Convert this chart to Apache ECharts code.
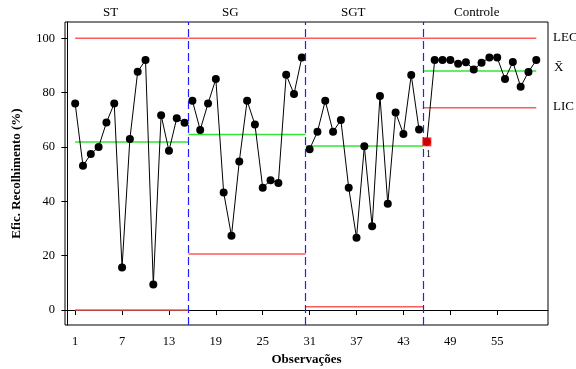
<!DOCTYPE html>
<html>
<head>
<meta charset="utf-8">
<script src="https://cdn.jsdelivr.net/npm/echarts@6/dist/echarts.min.js"></script>
<style>
  html, body { margin: 0; padding: 0; background: #fff; }
  #chart { width: 576px; height: 369px; }
</style>
</head>
<body>
<div id="chart"></div>
<script>
// estágios e limites de cada um
const stageNames = ['ST', 'SG', 'SGT', 'Controle'];
const stageFrom = [1, 15.5, 30.5, 45.5];
const stageTo = [15.5, 30.5, 45.5, 60];
const lecValues = [100, 100, 100, 100];
const meanValues = [61.8, 64.6, 60.4, 88.0];
const licValues = [0, 20.6, 1.2, 74.4];

// eficiência de recolhimento (%) por observação
const stValues = [76.0, 53.1, 57.4, 60.0, 69.0, 76.0, 15.7, 62.9, 87.7, 92.0, 9.4, 71.7, 58.6, 70.6, 68.9];
const sgValues = [77.0, 66.3, 76.0, 85.0, 43.3, 27.3, 54.7, 77.0, 68.3, 45.0, 47.8, 46.8, 86.6, 79.5, 92.9];
const sgtValues = [59.2, 65.6, 77.0, 65.6, 69.9, 45.0, 26.6, 60.3, 30.8, 78.8, 39.1, 72.7, 64.8, 86.5, 66.4];
const controleValues = [61.9, 92.0, 92.0, 92.0, 90.6, 91.2, 88.5, 91.0, 92.9, 92.9, 85.0, 91.3, 82.2, 87.6, 92.0];
const stageValues = [stValues, sgValues, sgtValues, controleValues];

const xTicks = [1, 7, 13, 19, 25, 31, 37, 43, 49, 55];
const yTicks = [0, 20, 40, 60, 80, 100];
const outOfControl = [46]; // ponto marcado pelo teste 1

const FONT = 'Liberation Serif';
const series = [];
const allPoints = [];

// linhas de controle por estágio
function limitLine(vals, color, i) {
  return {
    type: 'line',
    data: [[stageFrom[i], vals[i]], [stageTo[i], vals[i]]],
    symbol: 'none',
    silent: true,
    lineStyle: { color: color, width: 1.5 },
    z: 1
  };
}
for (let i = 0; i < stageNames.length; i++) {
  series.push(limitLine(lecValues, '#ff5a5a', i));
  series.push(limitLine(licValues, '#ff5a5a', i));
  series.push(limitLine(meanValues, '#33e633', i));
}

// pontos observados
let obs = 1;
stageValues.forEach((vals) => {
  const data = vals.map((v) => {
    const pt = [obs++, v];
    allPoints.push(pt);
    return pt;
  });
  series.push({
    type: 'line',
    data: data,
    symbol: 'circle',
    symbolSize: 8,
    itemStyle: { color: '#000' },
    lineStyle: { color: '#000', width: 1 },
    z: 3
  });
});

// ponto fora de controle
const redPoints = allPoints.filter((p) => outOfControl.includes(p[0]));
series.push({
  type: 'scatter',
  data: redPoints,
  symbol: 'rect',
  symbolSize: 9,
  itemStyle: { color: '#ff0000' },
  z: 5
});

// divisões entre estágios
series.push({
  type: 'line',
  data: [],
  markLine: {
    silent: true,
    symbol: 'none',
    label: { show: false },
    lineStyle: { color: '#2020ff', type: [8, 4], width: 1.2 },
    data: stageFrom.slice(1).map((x) => ({ xAxis: x }))
  }
});

const textFont = '13px "Liberation Serif"';
const chart = echarts.init(document.getElementById('chart'));
chart.setOption({
  animation: false,
  textStyle: { fontFamily: FONT },
  grid: {
    left: 65, right: 28, top: 22, bottom: 44,
    outerBoundsMode: 'none',
    show: true, borderColor: '#000', borderWidth: 1
  },
  xAxis: {
    type: 'value',
    min: -0.3, max: 61.5,
    name: 'Observações',
    nameLocation: 'middle',
    nameGap: 26,
    nameTextStyle: { fontFamily: FONT, fontSize: 13, fontWeight: 'bold', color: '#000' },
    splitLine: { show: false },
    axisLine: { lineStyle: { color: '#000' } },
    axisTick: { customValues: xTicks, length: 5, lineStyle: { color: '#000' } },
    axisLabel: { customValues: xTicks, margin: 10, fontFamily: FONT, fontSize: 12.5, color: '#000' }
  },
  yAxis: {
    type: 'value',
    min: -5.5, max: 106,
    name: 'Efic. Recolhimento (%)',
    nameLocation: 'middle',
    nameGap: 42,
    nameTextStyle: { fontFamily: FONT, fontSize: 13, fontWeight: 'bold', color: '#000' },
    splitLine: { show: false },
    axisLine: { show: true, lineStyle: { color: '#000' } },
    axisTick: { show: true, customValues: yTicks, length: 6, lineStyle: { color: '#000' } },
    axisLabel: { customValues: yTicks, margin: 10, fontFamily: FONT, fontSize: 12.5, color: '#000' }
  },
  graphic: [
    { id: 'st', type: 'text', left: 103, top: 6, style: { text: stageNames[0], font: textFont, fill: '#000' } },
    { id: 'sg', type: 'text', left: 222, top: 6, style: { text: stageNames[1], font: textFont, fill: '#000' } },
    { id: 'sgt', type: 'text', left: 341, top: 6, style: { text: stageNames[2], font: textFont, fill: '#000' } },
    { id: 'ctrl', type: 'text', left: 454, top: 6, style: { text: stageNames[3], font: textFont, fill: '#000' } },
    { id: 'lec', type: 'text', left: 553, top: 31, style: { text: 'LEC', font: textFont, fill: '#000' } },
    { id: 'xbar', type: 'text', left: 554, top: 61, style: { text: 'X\u0304', font: textFont, fill: '#000' } },
    { id: 'lic', type: 'text', left: 553, top: 100, style: { text: 'LIC', font: textFont, fill: '#000' } }
  ],
  series: series
});

// rótulo "1" do teste, abaixo do ponto fora de controle
const flagLabels = redPoints.map((p, i) => {
  const px = chart.convertToPixel({ xAxisIndex: 0, yAxisIndex: 0 }, p);
  return {
    id: 'flag' + i,
    type: 'text',
    left: Math.round(px[0]) - 1,
    top: Math.round(px[1]) + 7,
    z: 100,
    style: { text: '1', font: '10px "Liberation Serif"', fill: '#000' }
  };
});
chart.setOption({ graphic: flagLabels });
</script>
</body>
</html>
